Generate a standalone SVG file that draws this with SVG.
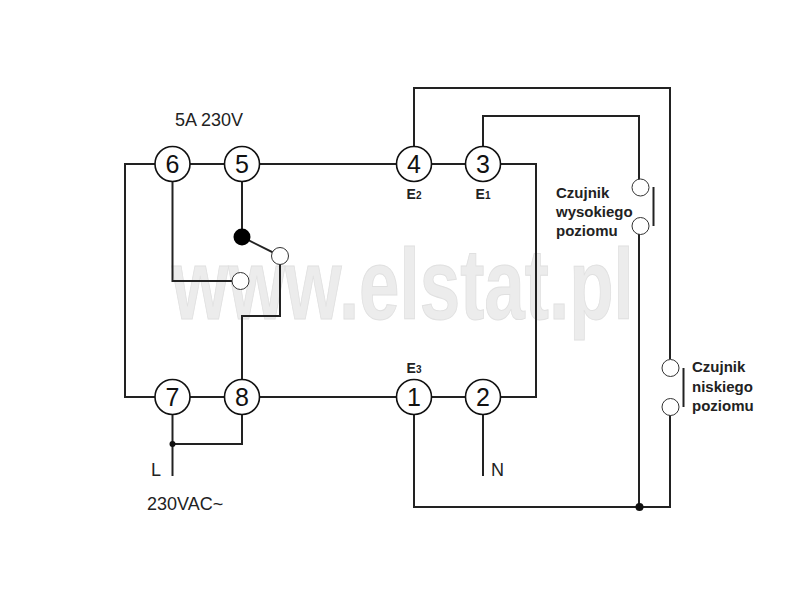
<svg xmlns="http://www.w3.org/2000/svg" width="800" height="600" viewBox="0 0 800 600">
<style>
.w{fill:none;stroke:#222;stroke-width:2}
.t{fill:#fff;stroke:#111;stroke-width:1.6}
.c{fill:#fff;stroke:#333;stroke-width:1}
.n{font:25px "Liberation Sans",Arial,sans-serif;fill:#111;text-anchor:middle}
.l{font:18px "Liberation Sans",Arial,sans-serif;fill:#222}
.b{font:bold 15px "Liberation Sans",Arial,sans-serif;fill:#222}
.e{font:bold 14px "Liberation Sans",Arial,sans-serif;fill:#222;text-anchor:middle}
.s{font-size:10px}
</style>
<rect width="800" height="600" fill="#fff"/>
<text id="watermark" transform="translate(172 319) scale(.727 1)" x="0" y="0" font-family="'Liberation Sans',Arial,sans-serif" font-weight="bold" font-size="100" fill="#ececec" stroke="#e0e0e0" stroke-width="1">www.elstat.pl</text>
<g id="connectors">
<path class="w" d="M414 147V88H670V359"/>
<path class="w" d="M670 415V507H414V414"/>
<path class="w" d="M483 147V116H639V180"/>
<path class="w" d="M639 234V507"/>
<path class="w" d="M155 164H125V397H155"/>
<path class="w" d="M190 164H224"/>
<path class="w" d="M260 164H396"/>
<path class="w" d="M432 164H465"/>
<path class="w" d="M501 164H536V397H501"/>
<path class="w" d="M190 397H224"/>
<path class="w" d="M260 397H396"/>
<path class="w" d="M432 397H465"/>
<path class="w" d="M172.500 182V281H232"/>
<path class="w" d="M242 182V237L280 256"/>
<path class="w" d="M280 264V316H242V379"/>
<path class="w" d="M172.500 415V476"/>
<path class="w" d="M172.500 444H242V415"/>
<path class="w" d="M483 415V476"/>
<path class="w" d="M653.500 187V226"/>
<path class="w" d="M683.500 368V407"/>
<circle cx="172.500" cy="444" r="3" fill="#111"/>
<circle cx="639.500" cy="507" r="4" fill="#111"/>
</g>
<g id="node-6"><circle class="t" cx="172.500" cy="164" r="17.500"/><text class="n" x="172.500" y="173">6</text></g>
<g id="node-5"><circle class="t" cx="242" cy="164" r="17.500"/><text class="n" x="242" y="173">5</text></g>
<g id="node-4"><circle class="t" cx="414" cy="164" r="17.500"/><text class="n" x="414" y="173">4</text></g>
<g id="node-3"><circle class="t" cx="483" cy="164" r="17.500"/><text class="n" x="483" y="173">3</text></g>
<g id="node-7"><circle class="t" cx="172.500" cy="397" r="17.500"/><text class="n" x="172.500" y="406">7</text></g>
<g id="node-8"><circle class="t" cx="242" cy="397" r="17.500"/><text class="n" x="242" y="406">8</text></g>
<g id="node-1"><circle class="t" cx="414" cy="397" r="17.500"/><text class="n" x="414" y="406">1</text></g>
<g id="node-2"><circle class="t" cx="483" cy="397" r="17.500"/><text class="n" x="483" y="406">2</text></g>
<g id="switch">
<circle cx="242" cy="237" r="8.500" fill="#000"/>
<circle class="c" cx="280" cy="256" r="8.500"/>
<circle class="c" cx="240.500" cy="281" r="8.500"/>
</g>
<g id="sensor-high">
<circle class="c" cx="640.500" cy="187.500" r="8.500"/>
<circle class="c" cx="640.500" cy="226" r="8.500"/>
<text class="b" x="556" y="198">Czujnik</text>
<text class="b" x="556" y="217">wysokiego</text>
<text class="b" x="556" y="236">poziomu</text>
</g>
<g id="sensor-low">
<circle class="c" cx="670.500" cy="368" r="8.500"/>
<circle class="c" cx="670.500" cy="407" r="8.500"/>
<text class="b" x="692" y="372">Czujnik</text>
<text class="b" x="692" y="392">niskiego</text>
<text class="b" x="692" y="411">poziomu</text>
</g>
<g id="labels">
<text class="l" x="175" y="126">5A 230V</text>
<text class="e" x="414" y="199">E<tspan class="s">2</tspan></text>
<text class="e" x="483" y="199">E<tspan class="s">1</tspan></text>
<text class="e" x="414" y="373">E<tspan class="s">3</tspan></text>
<text class="l" x="151" y="476">L</text>
<text class="l" x="491" y="476">N</text>
<text class="l" x="147" y="510">230VAC~</text>
</g>
</svg>
